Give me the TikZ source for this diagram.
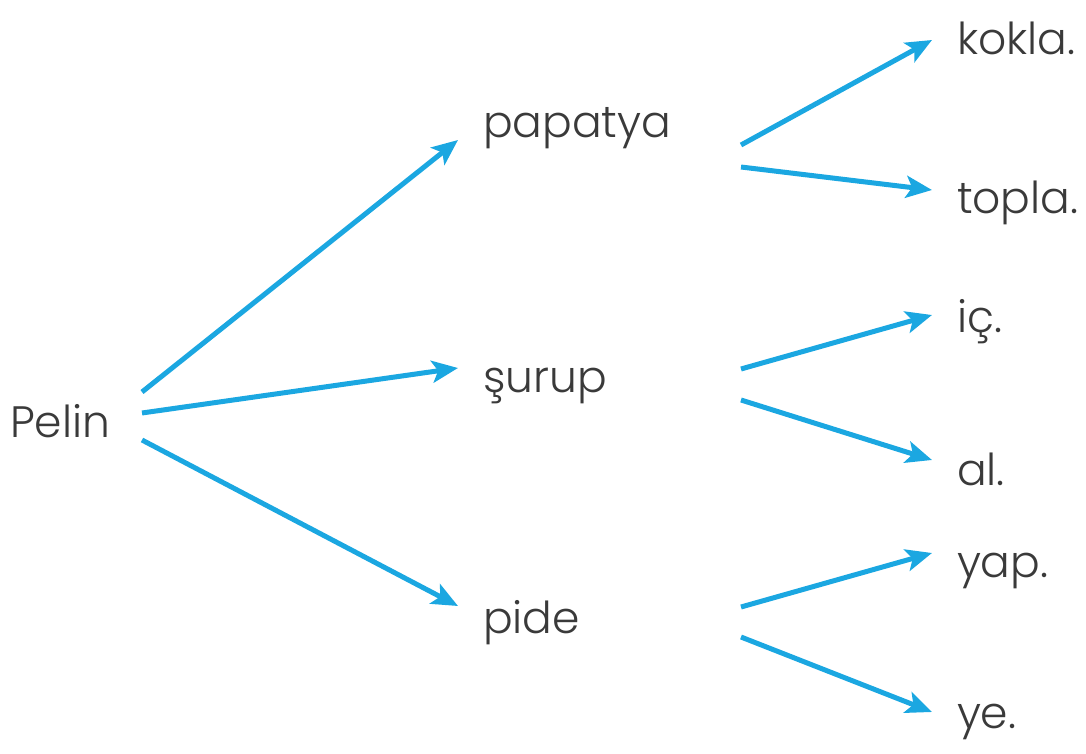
\documentclass[tikz,border=0pt]{standalone}
\usepackage{fontspec}
\setmainfont{Poppins Light}
\usepackage{tikz}
\usetikzlibrary{arrows.meta,positioning}
\definecolor{arrowblue}{HTML}{1BA7E1}
\definecolor{textgray}{HTML}{3A3A3A}

\begin{document}
\begin{tikzpicture}[
    x=1pt, y=-1pt,
    font=\fontsize{44}{50}\selectfont,
    word/.style={anchor=base west, inner sep=0pt, outer sep=25pt, text height=34pt, text depth=0pt, text=textgray},
    mid/.style={word, text width=233pt, align=left},
    arrow/.style={-{Stealth[length=26pt, width=22pt, inset=6pt]}, line width=5pt, draw=arrowblue}
]
\useasboundingbox (0,0) rectangle (1086,754);

\node[word, text width=107pt, align=left] (pelin) at (-15,437) {Pelin};

\node[mid] (papatya) at (458,138) {papatya};
\node[mid] (surup) at (458,392) {şurup};
\node[mid] (pide) at (458,633) {pide};

\node[word] (kokla) at (932,55) {kokla.};
\node[word] (topla) at (932,213) {topla.};
\node[word] (ic) at (932,332) {iç.};
\node[word] (al) at (932,485) {al.};
\node[word] (yap) at (932,577) {yap.};
\node[word] (ye) at (932,728) {ye.};

\foreach \a/\sa/\b/\sb in {pelin/28/papatya/-19, pelin/7/surup/7, pelin/-20/pide/10,
    papatya/-24/kokla/-2, papatya/-46/topla/6, surup/6/ic/0, surup/-25/al/8,
    pide/9/yap/7, pide/-21/ye/-1}
  \draw[arrow] ([yshift=\sa pt]\a.east) -- ([yshift=\sb pt]\b.west);
\end{tikzpicture}
\end{document}
